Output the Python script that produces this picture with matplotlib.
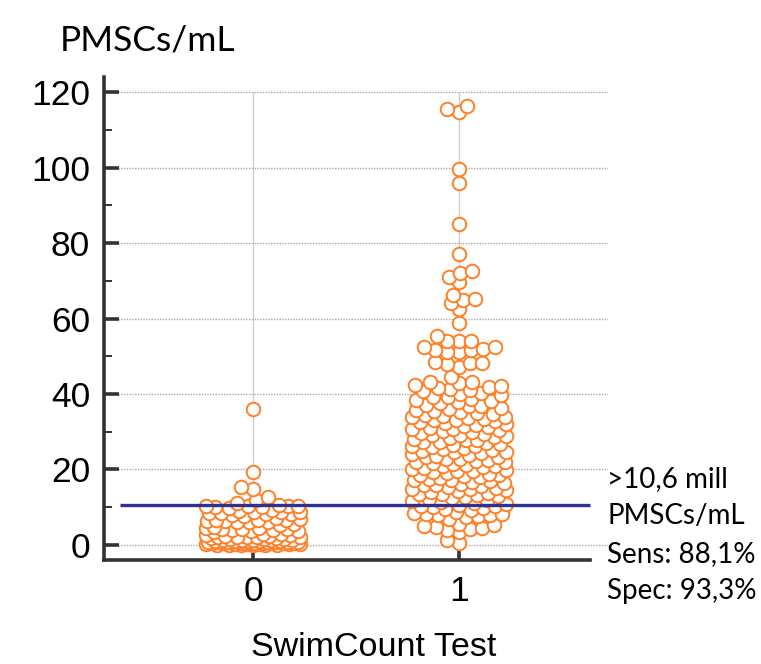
import numpy as np
import matplotlib.pyplot as plt

# PMSCs/mL values, SwimCount test negative (0) / positive (1)
group0 = [36.0, 19.2, 15.4, 14.7, 12.6, 11.9, 11.1,
          10.5, 10.4, 10.3, 10.3, 10.2, 10.1, 10.0,
          9.7, 9.3, 9.0, 8.8, 8.7, 8.6, 8.5, 8.4, 8.3, 8.1, 8.0,
          7.6, 7.2, 6.9, 6.7, 6.6, 6.5, 6.4, 6.3, 6.2, 6.1, 6.0,
          5.6, 5.2, 4.8, 4.6, 4.4, 4.3, 4.2, 4.1, 4.0, 3.9, 3.8, 3.6,
          3.3, 3.0, 2.8, 2.6, 2.5, 2.4, 2.3, 2.2, 2.2, 2.1, 2.0, 2.0, 1.9, 1.8, 1.7, 1.6, 1.5,
          1.4, 1.3, 1.3, 1.2, 1.2, 1.1, 1.1, 1.0, 1.0, 1.0, 0.9, 0.9, 0.9, 0.8, 0.8, 0.8,
          0.7, 0.7, 0.7, 0.6, 0.6, 0.6, 0.5, 0.5, 0.5, 0.4, 0.4, 0.4, 0.3, 0.3, 0.3,
          0.2, 0.2, 0.2, 0.1, 0.1, 0.1, 0.0, 0.0, 0.0]

group1 = [116.3, 115.5, 114.7, 99.6, 95.9, 85.0, 77.1, 72.6, 72.0, 71.0, 69.7,
          66.2, 65.2, 64.9, 64.1, 62.5, 58.9,
          55.4, 54.0, 54.0, 54.0, 52.5, 52.5, 51.9, 51.6, 51.6, 51.1, 51.1,
          48.5, 48.2, 48.2, 47.9, 47.2, 44.5, 43.2, 43.2,
          42.8, 42.4, 42.1, 41.9, 41.6, 41.3, 41.1, 40.7, 40.2, 39.9, 39.6, 39.3, 39.1, 38.8, 38.5, 38.2,
          37.8, 37.5, 37.2, 36.9, 36.7, 36.3, 36.0, 35.8, 35.5, 35.2, 34.9, 34.7, 34.4, 34.2, 34.0,
          33.8, 33.6, 33.4, 33.2, 33.0,
          32.8, 32.5, 32.3, 32.0, 31.8, 31.6, 31.3, 31.1, 30.8, 30.6, 30.4, 30.1, 29.9, 29.7, 29.4,
          29.2, 29.0, 28.8, 28.6, 28.3, 28.1,
          27.9, 27.7, 27.4, 27.2, 27.0, 26.8, 26.5, 26.3, 26.1, 25.9, 25.6, 25.4, 25.2, 25.0, 24.7,
          24.5, 24.3, 24.1, 23.8, 23.6, 23.4, 23.2,
          22.9, 22.7, 22.5, 22.3, 22.1, 21.9, 21.6, 21.4, 21.2, 21.0, 20.8, 20.6, 20.4, 20.1, 19.9,
          19.7, 19.5, 19.3, 19.0, 18.8, 18.6, 18.4, 18.2,
          17.9, 17.7, 17.5, 17.3, 17.1, 16.9, 16.6, 16.4, 16.2, 16.0, 15.8, 15.6, 15.3, 15.1, 14.9,
          14.7, 14.5, 14.2, 14.0, 13.8, 13.6, 13.4, 13.1,
          12.9, 12.6, 12.4, 12.1, 11.9, 11.6, 11.4, 11.1, 10.9, 10.7,
          10.4, 10.2, 10.1, 9.9, 9.6, 9.2, 8.6, 8.4, 8.3, 8.1, 8.0, 7.9, 7.7, 7.4, 6.9,
          5.6, 5.3, 5.0, 4.8, 4.6, 4.3, 3.9, 3.4, 1.3, 0.5]

groups = [0, 1]
group_labels = ["0", "1"]
yticks = [0, 20, 40, 60, 80, 100, 120]
cutoff = 10.6
notes = [">10,6 mill", "PMSCs/mL", "Sens: 88,1%", "Spec: 93,3%"]

orange = "#FF7F27"
navy = "#2E3192"
dark = "#333333"

fig = plt.figure(figsize=(7.61, 6.64), dpi=100)
ax = fig.add_axes([0.1367, 0.1566, 0.6623, 0.7274])
ax.set_xlim(-0.723, 1.723)
ax.set_ylim(-4, 124)


def swarm(values, half_px=47, dx=12.0, dy=8.0):
    # beeswarm in pixel space, capped width: overflow goes where it overlaps least
    vals = np.asarray(values, float)
    ypx = ax.transData.transform(np.column_stack([np.zeros_like(vals), vals]))[:, 1]
    ppu = ax.transData.transform((1, 0))[0] - ax.transData.transform((0, 0))[0]
    cand = np.arange(-half_px, half_px + 1, 1.0)
    cand = cand[np.argsort(np.abs(cand), kind="stable")]
    order = np.argsort(vals, kind="stable")
    px, py = [], []
    off = np.zeros(len(vals))
    for i in order:
        x = 0.0
        if px:
            qx = np.array(px)
            qy = np.array(py)
            near = np.abs(qy - ypx[i]) < dy
            if near.any():
                d = np.sqrt(((cand[:, None] - qx[near]) / dx) ** 2
                            + ((ypx[i] - qy[near]) / dy) ** 2).min(axis=1)
                ok = d >= 1
                x = cand[np.argmax(ok)] if ok.any() else cand[np.argmax(d)]
        px.append(x)
        py.append(ypx[i])
        off[i] = x
    return order, off / ppu


for g, vals in zip(groups, [group0, group1]):
    order, off = swarm(vals)
    v = np.asarray(vals)[order]
    ax.scatter(g + off[order], v, s=95, facecolors="white", edgecolors=orange,
               linewidths=1.4, zorder=3)

# grid
for yt in yticks:
    ax.axhline(yt, color="#A8A8A8", lw=1.0, ls=(0, (1, 1)), zorder=1)
ax.vlines(groups, 0, 120, color="#CFCFCF", lw=1.0, zorder=1)

# cut-off line
ax.hlines(cutoff, -0.646, 1.636, color=navy, lw=2.4, zorder=4)

for s in ["top", "right"]:
    ax.spines[s].set_visible(False)
for s in ["left", "bottom"]:
    ax.spines[s].set_color(dark)
    ax.spines[s].set_linewidth(2.6)
ax.spines["bottom"].set_bounds(-0.723, 1.636)

ax.set_yticks(yticks)
ax.set_yticks(np.arange(10, 120, 20), minor=True)
ax.set_xticks(groups)
ax.set_xticklabels(group_labels)
ax.tick_params(axis="y", which="major", direction="in", length=10.8, width=2.6,
               color=dark, pad=10, labelsize=25.5)
ax.tick_params(axis="y", which="minor", direction="in", length=5.5, width=1.4, color=dark)
ax.tick_params(axis="x", which="major", direction="in", length=7, width=2.6,
               color=dark, pad=11, labelsize=25.5)
for lab in ax.get_xticklabels() + ax.get_yticklabels():
    lab.set_family("Liberation Sans")

fig.text(373.5 / 761, (664 - 656) / 664, "SwimCount Test", ha="center", va="baseline",
         fontsize=24.5, family="Liberation Sans")
fig.text(60 / 761, (664 - 50) / 664, "PMSCs/mL", ha="left", va="baseline",
         fontsize=25.5, family="Lato")

for k, t in enumerate(notes):
    fig.text(607 / 761, (664 - (487 + 37.5 * k)) / 664, t, ha="left", va="baseline",
             fontsize=20, family="Lato")

fig.savefig("out.png", dpi=100)
